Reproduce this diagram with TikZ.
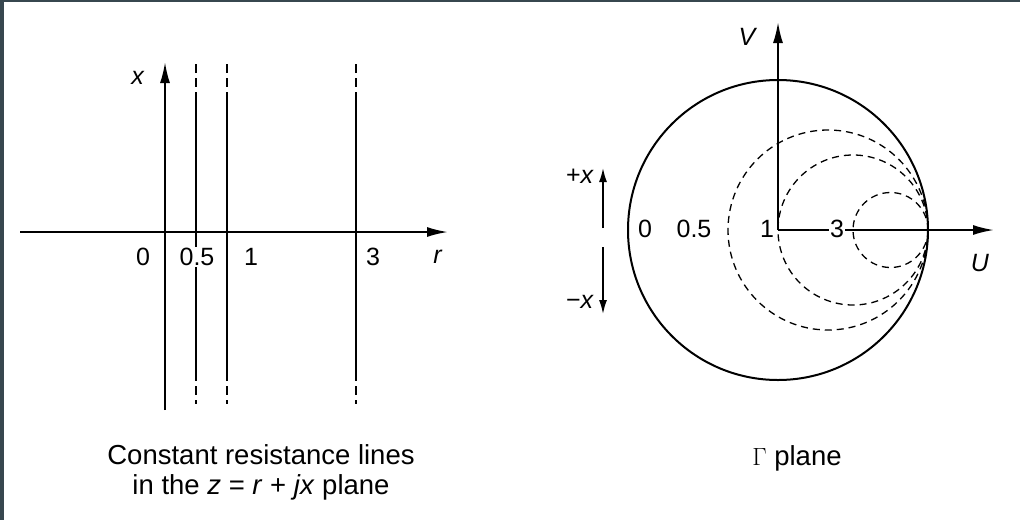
\documentclass[tikz,border=0pt]{standalone}
\usepackage{fontspec}
\setmainfont{Liberation Sans}
\usetikzlibrary{arrows.meta}
\definecolor{frame}{HTML}{37474F}
\begin{document}
\begin{tikzpicture}[x=1pt,y=-1pt,
  axis/.style={line width=2pt,-{Latex[length=21pt,width=10pt]}},
  rline/.style={line width=1.9pt},
  dline/.style={line width=1.9pt,dash pattern=on 9pt off 5pt},
  dcirc/.style={line width=1.3pt,dash pattern=on 7pt off 5pt},
  lab/.style={font=\fontsize{25}{28}\selectfont,inner sep=1pt},
  wlab/.style={lab,fill=white},
  captext/.style={font=\fontsize{27.5}{30}\selectfont,align=center}]
\fill[frame] (0,0) rectangle (1020,520);
\fill[white] (4,2) rectangle (1020,520);
\useasboundingbox (0,0) rectangle (1020,520);
% ---------- left panel ----------
\coordinate (hl) at (20,232);
\coordinate (hr) at (448,232);
\coordinate (vb) at (165,410);
\coordinate (vt) at (165,62);
\draw[axis] (hl) -- (hr);
\draw[axis] (vb) -- (vt);
\foreach \n/\xx in {a/196,b/227,c/356}{
  \coordinate (\n t) at (\xx,64);
  \coordinate (\n u) at (\xx,96);
  \coordinate (\n l) at (\xx,372);
  \coordinate (\n b) at (\xx,404);
  \draw[dline] (\n t) -- (\n u);
  \draw[rline] (\n u) -- (\n l);
  \draw[dline] (\n l) -- (\n b);
}
\node[lab] (l0) at (143,257) {0};
\node[wlab] (l05) at (197,257) {0.5};
\node[lab] (l1) at (251,257) {1};
\node[lab] (l3) at (373,257) {3};
\node[lab] (lr) at (438,257) {\textit{r}};
\node[lab] (lx) at (138,78) {\textit{x}};
\node[captext] (capl) at (261,472) {Constant resistance lines\\in the \textit{z} = \textit{r} + \textit{jx} plane};
% ---------- right panel ----------
\coordinate (C) at (778,230);
\coordinate (Ue) at (994,230);
\coordinate (Ve) at (778,22);
\draw[line width=2pt] (C) circle[radius=150pt];
\draw[dcirc] (828,230) circle[radius=100pt];
\draw[dcirc] (853,230) circle[radius=75pt];
\draw[dcirc] (890.5,230) circle[radius=37.5pt];
\draw[axis] (C) -- (Ue);
\draw[axis] (C) -- (Ve);
\node[lab] (r0) at (645,229) {0};
\node[lab] (r05) at (694,229) {0.5};
\node[lab] (r1) at (767,229) {1};
\node[wlab] (r3) at (837,229) {3};
\node[lab] (rV) at (748,37) {\textit{V}};
\node[lab] (rU) at (980,263) {\textit{U}};
\coordinate (pxs) at (603,228);
\coordinate (pxe) at (603,168);
\coordinate (mxs) at (603,247);
\coordinate (mxe) at (603,314);
\draw[line width=1.6pt,-{Latex[length=14pt,width=8pt]}] (pxs) -- (pxe);
\draw[line width=1.6pt,-{Latex[length=14pt,width=8pt]}] (mxs) -- (mxe);
\node[lab] (lpx) at (580,176) {+\textit{x}};
\node[lab] (lmx) at (580,302) {−\textit{x}};
\node[captext] (capr) at (797,458) {$\Gamma$ plane};
\end{tikzpicture}
\end{document}
